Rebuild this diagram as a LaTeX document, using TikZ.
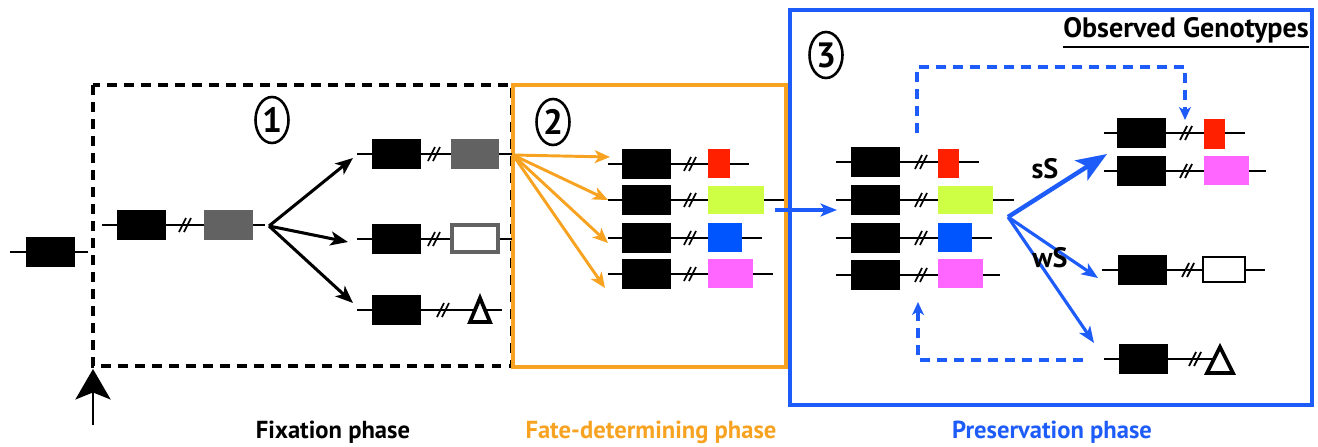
\documentclass[tikz,border=0pt]{standalone}
\usepackage{fontspec}
\setmainfont{PT Sans}
\usetikzlibrary{arrows.meta,shapes.geometric}
\definecolor{fateorange}{RGB}{247,163,33}
\definecolor{presblue}{RGB}{30,92,250}
\definecolor{allelered}{RGB}{255,32,0}
\definecolor{allelelime}{RGB}{206,255,68}
\definecolor{alleleblue}{RGB}{0,85,255}
\definecolor{allelepink}{RGB}{255,102,255}
\definecolor{allelegray}{RGB}{98,98,98}

% one gene copy: thin chromosome line, black gene, "//" break mark
% #1 name, #2 y, #3 line start, #4 gene left, #5 break mark x, #6 line end
\newcommand{\generow}[6]{%
  \draw[geneline] (#3,#2) -- (#6,#2);
  \fill[black] (#4,#2-15) rectangle (#4+49,#2+15);
  \draw[slashmark] (#5-6,#2+7) -- (#5+1,#2-7) (#5-1,#2+7) -- (#5+6,#2-7);
  \coordinate (#1) at (#3,#2);
}
% deleted copy drawn as a Delta
\newcommand{\deltamark}[4]{% #1 left x, #2 right x, #3 top y, #4 bottom y
  \draw[line width=3.2pt,fill=white,line join=miter] (#1,#4) -- ({(#1+#2)/2},#3) -- (#2,#4) -- cycle;
}

\begin{document}
\begin{tikzpicture}[x=0.03cm,y=-0.03cm,
  geneline/.style={line width=1.7pt},
  slashmark/.style={line width=1.5pt},
  circnum/.style={ellipse,draw,line width=2.2pt,minimum width=0.99cm,minimum height=1.38cm,inner sep=0pt,font=\bfseries\fontsize{30pt}{30pt}\selectfont},
  blackarrow/.style={line width=2.6pt,-{Stealth[length=15pt,width=12pt,inset=4pt]}},
  orangearrow/.style={draw=fateorange,line width=2.5pt,-{Stealth[length=13pt,width=11pt,inset=3.5pt]}},
  bluearrow/.style={draw=presblue,line width=2.7pt,-{Stealth[length=14pt,width=11pt,inset=3.5pt]}},
  bigbluearrow/.style={draw=presblue,line width=3.8pt,-{Stealth[length=26pt,width=20pt,inset=6pt]}},
  bluedash/.style={draw=presblue,line width=3pt,dash pattern=on 8.5pt off 6pt,-{Stealth[length=11pt,width=10pt,inset=3pt]}},
  phasebox/.style={line width=2.9pt},
  phaselabel/.style={font=\bfseries\fontsize{21pt}{21pt}\selectfont,anchor=base,inner sep=0pt},
  routelabel/.style={font=\bfseries\fontsize{24pt}{24pt}\selectfont,anchor=base,inner sep=0pt}
]
\useasboundingbox (0,0) rectangle (1318,446);

% ---------- phase frames ----------
\draw[line width=3pt,dash pattern=on 8.5pt off 6pt] (93,85) rectangle (512,366);
\draw[phasebox,draw=fateorange] (513,85) rectangle (786,367);
\draw[phasebox,draw=presblue] (790,10) rectangle (1312,405);

\node[circnum] (c1) at (272,120) {1};
\node[circnum] (c2) at (553,122) {2};
\node[circnum] (c3) at (826,55) {3};

% ---------- fixation phase ----------
\generow{g0}{252}{10}{26}{-100}{88}
\generow{g1}{225}{102}{117}{185}{265}
\fill[allelegray] (204,210) rectangle (253,240);
\coordinate (split1) at (269,226);

\generow{fa}{154}{357}{372}{434}{512}
\fill[allelegray] (451,139) rectangle (499,169);
\generow{fb}{239}{357}{372}{434}{512}
\draw[draw=allelegray,line width=2.6pt,fill=white] (452,225) rectangle (498,252);
\generow{fc}{310}{357}{372}{443}{502}
\deltamark{470}{490}{298}{322}

\coordinate (ta) at (353,158);
\coordinate (tb) at (348,242);
\coordinate (tc) at (353,303);
\draw[blackarrow] (split1) -- (ta);
\draw[blackarrow] (split1) -- (tb);
\draw[blackarrow] (split1) -- (tc);

% ---------- fate-determining phase ----------
\generow{o1}{164}{608}{622}{690}{749}
\fill[allelered] (708,149) rectangle (730,178);
\generow{o2}{200}{608}{622}{690}{784}
\fill[allelelime] (708,186) rectangle (764,214);
\generow{o3}{238}{608}{622}{690}{762}
\fill[alleleblue] (708,223) rectangle (742,252);
\generow{o4}{274}{608}{622}{690}{773}
\fill[allelepink] (708,259) rectangle (753,288);

\coordinate (split2) at (513,155);
\draw[orangearrow] (split2) -- (610,157);
\draw[orangearrow] (split2) -- (608,200);
\draw[orangearrow] (split2) -- (608,243);
\draw[orangearrow] (split2) -- (605,288);

\coordinate (fateout) at (775,210);
\coordinate (presin) at (837,210);
\draw[bluearrow] (fateout) -- (presin);

% ---------- preservation phase ----------
\generow{p1}{162}{836}{851}{921}{979}
\fill[allelered] (938,149) rectangle (959,178);
\generow{p2}{200}{836}{851}{921}{1014}
\fill[allelelime] (938,186) rectangle (993,214);
\generow{p3}{238}{836}{851}{921}{992}
\fill[alleleblue] (938,223) rectangle (972,252);
\generow{p4}{275}{836}{851}{921}{1000}
\fill[allelepink] (938,259) rectangle (983,288);

\coordinate (split3) at (1008,217);
\coordinate (tsS) at (1107,154);
\coordinate (twS) at (1098,278);
\coordinate (tdel) at (1094,343);
\draw[bigbluearrow] (split3) -- (tsS);
\draw[bluearrow] (split3) -- (twS);
\draw[bluearrow] (split3) -- (tdel);

\node[routelabel] (sS) at (1045,178) {sS};
\node[routelabel] (wS) at (1050,267) {wS};

% observed genotypes
\node[font=\bfseries\fontsize{24pt}{24pt}\selectfont,anchor=base east,inner sep=0pt] (obs) at (1309,37) {Observed Genotypes};
\draw[line width=1.6pt] (obs.south west |- 0,47) -- (obs.south east |- 0,47);

\generow{rA}{133}{1104}{1117}{1186}{1245}
\fill[allelered] (1204,119) rectangle (1225,149);
\generow{rB}{171}{1104}{1117}{1186}{1266}
\fill[allelepink] (1204,156) rectangle (1249,185);
\generow{rC}{270}{1102}{1118}{1188}{1265}
\draw[line width=2.4pt,fill=white] (1203,257) rectangle (1245,282);
\generow{rD}{359}{1104}{1119}{1195}{1215}
\deltamark{1207}{1233}{347}{373}

% feedback loops
\coordinate (loopA) at (917,133);
\coordinate (loopB) at (1185,120);
\draw[bluedash] (loopA) -- (917,67) -| (loopB);
\coordinate (loopC) at (1083,360);
\coordinate (loopD) at (918,302);
\draw[bluedash] (loopC) -| (loopD);

% ---------- entry arrow and phase names ----------
\coordinate (entryfoot) at (93,425);
\coordinate (entrytip) at (93,369);
\draw[line width=2.4pt,-{Stealth[length=26pt,width=30pt,inset=6pt]}] (entryfoot) -- (entrytip);

\node[phaselabel] (fix) at (333,438) {Fixation phase};
\node[phaselabel,text=fateorange] (fate) at (651,438) {Fate-determining phase};
\node[phaselabel,text=presblue] (pres) at (1052,438) {Preservation phase};
\end{tikzpicture}
\end{document}
